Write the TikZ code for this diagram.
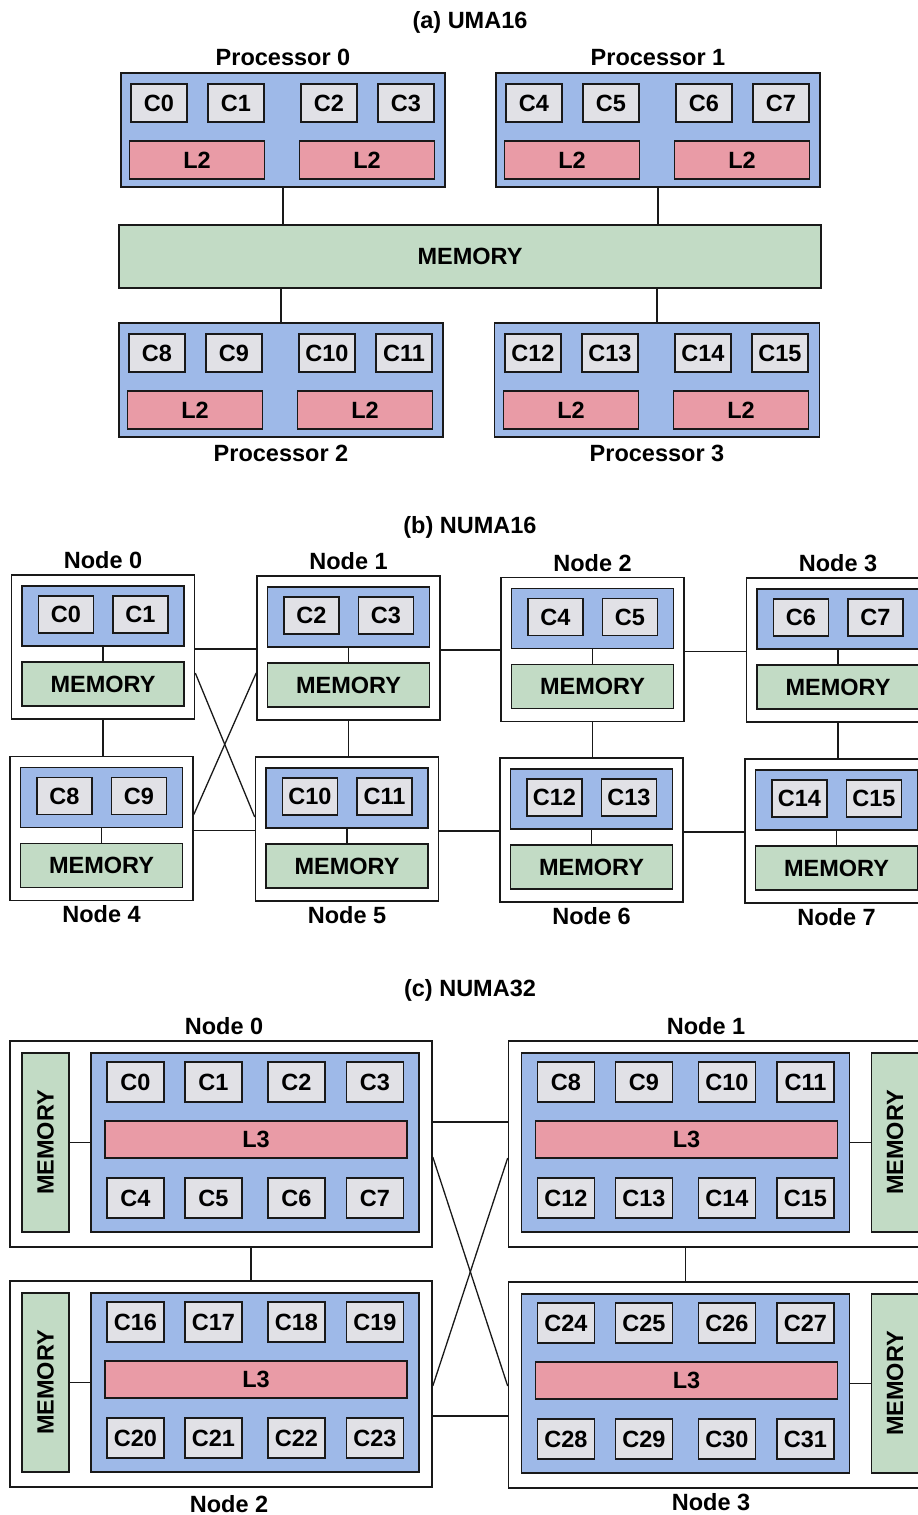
\documentclass[tikz,border=0pt]{standalone}
\usepackage{fontspec}
\setmainfont{Liberation Sans}
\usepackage{tikz}
\usetikzlibrary{positioning, calc}

\definecolor{procblue}{RGB}{158,185,232}
\definecolor{coregray}{RGB}{225,225,230}
\definecolor{cachered}{RGB}{233,155,166}
\definecolor{memgreen}{RGB}{194,219,197}
\definecolor{edgegray}{RGB}{25,25,25}

\begin{document}
\begin{tikzpicture}[x=1pt, y=-1pt,
  font=\fontsize{23.5}{27}\selectfont\bfseries,
  hwbox/.style={draw=edgegray, line width=1.6pt, inner sep=0pt, rectangle},
  procbox/.style={hwbox, fill=procblue},
  corebox/.style={hwbox, fill=coregray, minimum width=56pt, minimum height=38pt},
  cachebox/.style={hwbox, fill=cachered, minimum height=38pt},
  membox/.style={hwbox, fill=memgreen},
  nodebox/.style={hwbox, fill=white},
  wire/.style={draw=edgegray, line width=1.3pt},
  heading/.style={inner sep=0pt}]

\useasboundingbox (0,0) rectangle (918,1515);

% ---- (a) UMA16 ----------------------------------------------------------
\node[heading] (ta) at (470,22) {(a) UMA16};

\node[procbox, minimum width=324pt, minimum height=114pt] (p0) at (283,130) {};
\node[procbox, minimum width=324pt, minimum height=114pt] (p1) at (658,130) {};
\node[procbox, minimum width=324pt, minimum height=114pt] (p2) at (281,380) {};
\node[procbox, minimum width=325pt, minimum height=114pt] (p3) at (657,380) {};

\foreach \p/\first in {0/0, 1/4, 2/8, 3/12}{
  \foreach \dx [count=\i from 0] in {-124,-47,46,123}{
    \pgfmathtruncatemacro\n{\first+\i}
    \node[corebox] (uc\n) at ($(p\p.center)+(\dx,-27)$) {C\n};
  }
  \node[cachebox, minimum width=135pt] (ula\p) at ($(p\p.center)+(-86,30)$) {L2};
  \node[cachebox, minimum width=135pt] (ulb\p) at ($(p\p.center)+(84,30)$) {L2};
}

\node[membox, minimum width=702pt, minimum height=63pt] (umem) at (470,256.5) {MEMORY};

\draw[wire] (p0.south) -- (p0.south |- umem.north);
\draw[wire] (p1.south) -- (p1.south |- umem.north);
\draw[wire] (p2.north) -- (p2.north |- umem.south);
\draw[wire] (p3.north) -- (p3.north |- umem.south);

\node[heading, above=6pt of p0] (lp0) {Processor 0};
\node[heading, above=6pt of p1] (lp1) {Processor 1};
\node[heading, below=7pt of p2] (lp2) {Processor 2};
\node[heading, below=7pt of p3] (lp3) {Processor 3};

% ---- (b) NUMA16 ---------------------------------------------------------
\node[heading] (tb) at (470,527) {(b) NUMA16};

\foreach \k/\cx/\cy/\a/\b in {0/103/647/0/1, 1/348.5/648/2/3, 2/592.5/649.5/4/5, 3/838/650/6/7,
                              4/101.5/828.5/8/9, 5/347/829/10/11, 6/591.5/830/12/13, 7/836.5/831/14/15}{
  \node[nodebox, minimum width=183pt, minimum height=144pt] (bn\k) at (\cx,\cy) {};
  \node[procbox, minimum width=162pt, minimum height=60pt] (bp\k) at ($(bn\k.center)+(0,-31)$) {};
  \node[corebox, minimum width=55pt, minimum height=37pt] (bc\a) at ($(bp\k.center)+(-37,-1.5)$) {C\a};
  \node[corebox, minimum width=55pt, minimum height=37pt] (bc\b) at ($(bp\k.center)+(37.5,-1.5)$) {C\b};
  \node[membox, minimum width=162pt, minimum height=44pt] (bm\k) at ($(bn\k.center)+(0,37)$) {MEMORY};
  \draw[wire] (bp\k) -- (bm\k);
  \coordinate (bh\k) at ($(bn\k.east)+(0,2)$);
}

\foreach \u/\v in {0/1, 1/2, 2/3, 4/5, 5/6, 6/7}{
  \draw[wire] (bh\u) -- (bh\u -| bn\v.west);
}
\foreach \u/\v in {0/4, 1/5, 2/6, 3/7}{
  \draw[wire] (bn\u.south) -- (bn\u.south |- bn\v.north);
}
\draw[wire] ($(bn0.east)+(0,26)$) -- ($(bn5.west)+(0,-12)$);
\draw[wire] ($(bn4.east)+(0,-14)$) -- ($(bn1.west)+(0,25)$);

\foreach \k in {0,1,2,3}{\node[heading, above=5pt of bn\k] (lbn\k) {Node \k};}
\foreach \k in {4,5,6,7}{\node[heading, below=4pt of bn\k] (lbn\k) {Node \k};}

% ---- (c) NUMA32 ---------------------------------------------------------
\node[heading] (tc) at (470,990) {(c) NUMA32};

\foreach \k/\cx/\cy/\side/\first in {0/221/1144/-1/0, 1/719.5/1144/1/8, 2/221/1384/-1/16, 3/719.5/1385/1/24}{
  \node[nodebox, minimum width=422pt, minimum height=206pt] (cn\k) at (\cx,\cy) {};
  \node[procbox, minimum width=328pt, minimum height=179pt] (cp\k) at ($(cn\k.center)+(-34*\side,-1.5)$) {};
  \node[membox, minimum width=47pt, minimum height=179pt] (cm\k) at ($(cn\k.center)+(175.5*\side,-1.5)$) {\rotatebox{90}{MEMORY}};
  \foreach \dx [count=\i from 0] in {-119.5,-41.5,41.5,120}{
    \pgfmathtruncatemacro\n{\first+\i}
    \pgfmathtruncatemacro\m{\first+4+\i}
    \node[corebox, minimum width=57pt, minimum height=40pt] (cc\n) at ($(cp\k.center)+(\dx,-60.5)$) {C\n};
    \node[corebox, minimum width=57pt, minimum height=40pt] (cc\m) at ($(cp\k.center)+(\dx,55.5)$) {C\m};
  }
  \node[cachebox, minimum width=302pt, minimum height=37pt] (cl\k) at ($(cp\k.center)+(1,-3)$) {L3};
  \draw[wire] (cm\k) -- (cp\k);
}

\coordinate (ch0) at ($(cn0.east)+(0,-22)$);
\coordinate (ch2) at ($(cn2.east)+(0,32)$);
\draw[wire] (ch0) -- (ch0 -| cn1.west);
\draw[wire] (ch2) -- (ch2 -| cn3.west);
\draw[wire] ($(cn0.east)+(0,13)$) -- ($(cn3.west)+(0,1)$);
\draw[wire] ($(cn2.east)+(0,2)$) -- ($(cn1.west)+(0,14)$);
\draw[wire] ($(cn0.south)+(30,0)$) -- ($(cn2.north)+(30,0)$);
\draw[wire] (cp1.center |- cn1.south) -- (cp1.center |- cn3.north);

\node[heading, above=5pt of cn0, xshift=3pt] (lcn0) {Node 0};
\node[heading, above=5pt of cn1, xshift=-13.5pt] (lcn1) {Node 1};
\node[heading, below=7pt of cn2, xshift=8pt] (lcn2) {Node 2};
\node[heading, below=4pt of cn3, xshift=-8.5pt] (lcn3) {Node 3};

\end{tikzpicture}
\end{document}
